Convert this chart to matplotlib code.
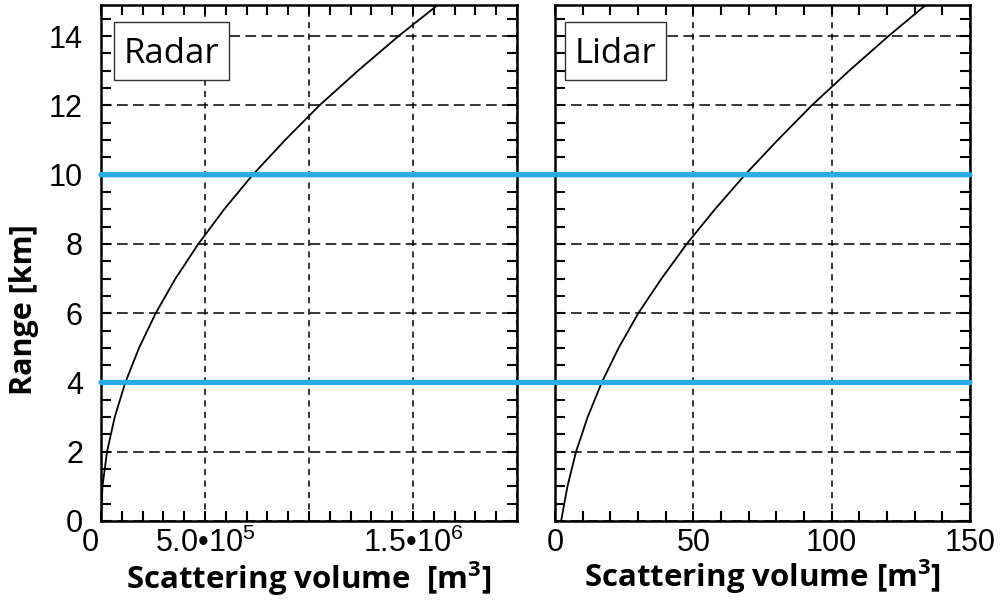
import matplotlib
matplotlib.use("Agg")
import matplotlib.pyplot as plt
from matplotlib.patches import ConnectionPatch, Rectangle
from matplotlib.ticker import MultipleLocator
from matplotlib.transforms import ScaledTranslation

plt.rcParams['mathtext.fontset'] = 'custom'
plt.rcParams['mathtext.rm'] = 'Liberation Sans'
plt.rcParams['mathtext.it'] = 'Liberation Sans'
plt.rcParams['mathtext.bf'] = 'Open Sans:bold'

# ---- data ----
range_km = [0, 1, 2, 3, 4, 5, 6, 7, 8, 9, 10, 11, 12, 13, 14, 15]
radar_volume = [0, 0.007e6, 0.029e6, 0.066e6, 0.117e6, 0.183e6, 0.263e6, 0.358e6,
                0.468e6, 0.592e6, 0.73e6, 0.885e6, 1.05e6, 1.235e6, 1.43e6, 1.64e6]
lidar_volume = [2.2, 4.5, 7.6, 11.8, 16.9, 23.0, 30.1, 38.5, 47.6, 57.8, 68.7,
                80.5, 92.8, 106.3, 120.5, 135.5]
highlight_ranges = [4, 10]
radar_xticks = [0, 5e5, 1e6, 1.5e6, 2e6]
radar_xticklabels = ['0', '5.0•10$^{5}$', '', '1.5•10$^{6}$', '']
lidar_xticks = [0, 50, 100, 150]
lidar_xticklabels = ['0', '50', '100', '150']
yticks = [0, 2, 4, 6, 8, 10, 12, 14]
panel_names = ['Radar', 'Lidar']

W, H = 1008, 603
fig = plt.figure(figsize=(W / 100, H / 100), dpi=100)
ax1 = fig.add_axes([101 / W, 1 - 521 / H, 416 / W, 516 / H])
ax2 = fig.add_axes([555 / W, 1 - 521 / H, 415 / W, 516 / H])

tick_font = dict(family='Liberation Sans', size=22)
xlabel_font = dict(family='Open Sans', size=22.5, weight='bold')
ylabel_font = dict(family='Open Sans', size=22, weight='bold')
blue = '#2aace2'

# box extents in axes fractions (x0, x1)
box_x = [(0.031, 0.308), (0.024, 0.2675)]
box_y = (0.8547, 0.967)
text_baseline = 0.8876

for i, (ax, xv, xmax, xt, xtl, xminor, name) in enumerate([
        (ax1, radar_volume, 2e6, radar_xticks, radar_xticklabels, 1e5, panel_names[0]),
        (ax2, lidar_volume, 150, lidar_xticks, lidar_xticklabels, 10, panel_names[1])]):
    ax.plot(xv, range_km, color='black', lw=1.3, zorder=3)
    ax.set_xlim(0, xmax)
    ax.set_ylim(0, 14.9)
    ax.set_xticks(xt)
    ax.set_xticklabels(xtl, fontdict=tick_font)
    ax.xaxis.set_minor_locator(MultipleLocator(xminor))
    ax.set_yticks(yticks)
    ax.yaxis.set_minor_locator(MultipleLocator(0.5))
    ax.tick_params(which='both', direction='in', length=7, width=1.5,
                   top=True, right=True, color='black')
    ax.tick_params(axis='x', pad=5)
    ax.tick_params(axis='y', pad=13)
    for s in ax.spines.values():
        s.set_linewidth(1.8)
    ax.yaxis.grid(True, linestyle=(0, (7, 3.5)), color='black', lw=1.1, zorder=1)
    ax.xaxis.grid(True, linestyle=(0, (4, 3.5)), color='black', lw=1.1, zorder=1)
    x0, x1 = box_x[i]
    ax.add_patch(Rectangle((x0, box_y[0]), x1 - x0, box_y[1] - box_y[0],
                           transform=ax.transAxes, fc='white', ec='#333333',
                           lw=1.0, zorder=5))
    ax.text((x0 + x1) / 2, text_baseline, name, transform=ax.transAxes,
            ha='center', va='baseline', family='Open Sans', size=25, zorder=6)

ax1.set_yticklabels([str(v) for v in yticks], fontdict=tick_font)
ax2.set_yticklabels([])

# shift the radar "0" x label slightly to the left, as in the reference
lbl0 = ax1.get_xticklabels()[0]
lbl0.set_transform(lbl0.get_transform() + ScaledTranslation(-11 / 100, 0, fig.dpi_scale_trans))

ax1.set_ylabel('Range [km]', fontdict=ylabel_font)
ax1.yaxis.set_label_coords(-0.148, 0.409)
ax1.set_xlabel('Scattering volume  [m$^{\\mathbf{3}}$]', fontdict=xlabel_font, labelpad=0)
ax2.set_xlabel('Scattering volume [m$^{\\mathbf{3}}$]', fontdict=xlabel_font, labelpad=0)

for r in highlight_ranges:
    con = ConnectionPatch(xyA=(0, r), coordsA=ax1.transData,
                          xyB=(150, r), coordsB=ax2.transData,
                          color=blue, lw=3.8, zorder=10)
    fig.add_artist(con)

fig.savefig('out.png', dpi=100)
